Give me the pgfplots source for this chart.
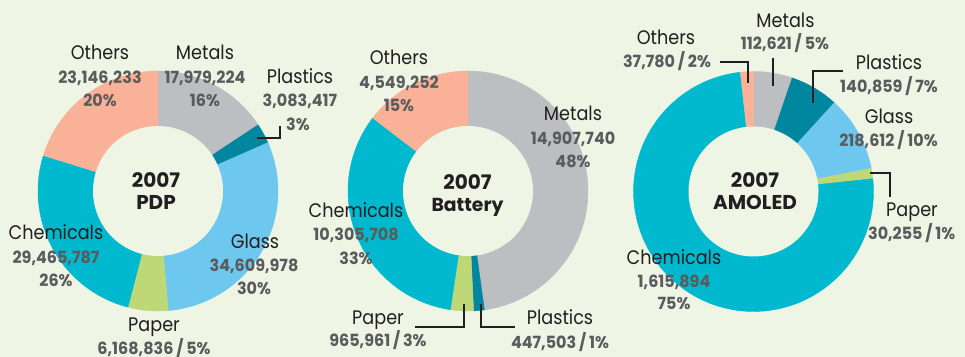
\documentclass[border=0pt]{standalone}
\usepackage{pgfplots}
\pgfplotsset{compat=1.18}
\usepackage{fontspec}
\setmainfont{Poppins}
\newfontfamily\namefont{Poppins}[FakeStretch=0.9]
\newfontfamily\numfont{Poppins}[FakeStretch=0.95]
\usepackage{xfp}
\definecolor{bg}{HTML}{EEF5E4}
\definecolor{cOthers}{HTML}{F9B298}
\definecolor{cMetals}{HTML}{BDBEC2}
\definecolor{cPlastics}{HTML}{00869E}
\definecolor{cGlass}{HTML}{6EC7EE}
\definecolor{cPaper}{HTML}{BED878}
\definecolor{cChem}{HTML}{00B9CE}
\definecolor{txt}{HTML}{231F20}
\definecolor{num}{HTML}{5A5B5D}

% cx, cy (pixels, y downwards), list of value/colour clockwise from 12 o'clock
\newcommand\donut[3]{%
  \gdef\tot{0}%
  \foreach \v/\c in {#3}{\xdef\tot{\fpeval{\tot+\v}}}%
  \gdef\cum{0}%
  \foreach \v/\c in {#3}{%
    \edef\aS{\fpeval{-90+360*\cum/\tot}}%
    \xdef\cum{\fpeval{\cum+\v}}%
    \edef\aE{\fpeval{-90+360*\cum/\tot}}%
    \edef\tmp{\noexpand\addplot[fill=\c, draw=\c, line width=0.2pt, domain=\aS:\aE, samples=90, variable=\noexpand\t] ({#1+120*cos(\noexpand\t)},{#2+120*sin(\noexpand\t)}) -- (axis cs:#1,#2) -- cycle;}%
    \tmp
  }%
  \addplot[fill=bg, draw=none, domain=0:360, samples=120, variable=\t] ({#1+65*cos(\t)},{#2+65*sin(\t)}) -- cycle;
}

\begin{document}
\begin{tikzpicture}[
  nm/.style={font=\namefont\fontsize{9.8}{11}\selectfont, text=txt, inner sep=0pt, text height=6.9pt, text depth=0pt, anchor=center},
  nb/.style={font=\numfont\fontsize{8.4}{10}\selectfont\bfseries, text=num, inner sep=0pt, text height=6.1pt, text depth=0pt, anchor=center},
  ct/.style={font=\fontsize{10}{12}\selectfont\bfseries, text=txt, inner sep=0pt, text height=7.2pt, text depth=0pt, anchor=center},
  ld/.style={txt, line width=0.55pt, mark=none}
]
\fill[bg] (0,0) rectangle (482.5pt,178.5pt);
\begin{axis}[at={(0,0)}, anchor=south west, scale only axis, width=482.5pt, height=178.5pt,
  xmin=0, xmax=965, ymin=0, ymax=357, y dir=reverse, hide axis, clip=false]

% ---- 2007 PDP ----
\donut{158}{191}{17979224/cMetals, 3083417/cPlastics, 34609978/cGlass, 6168836/cPaper, 29465787/cChem, 23146233/cOthers}
% ---- 2007 Battery ----
\donut{468}{191}{14907740/cMetals, 447503/cPlastics, 965961/cPaper, 10305708/cChem, 4549252/cOthers}
% ---- 2007 AMOLED ----
\donut{753.5}{191.5}{112621/cMetals, 140859/cPlastics, 218612/cGlass, 30255/cPaper, 1615894/cChem, 37780/cOthers}

% leader lines
\addplot[ld] coordinates {(257,138) (280,138) (280,126)};
\addplot[ld] coordinates {(464,304) (464,327) (415,327)};
\addplot[ld] coordinates {(481,304) (481,327) (515,327)};
\addplot[ld] coordinates {(720,62) (748,62) (748,83)};
\addplot[ld] coordinates {(773,58) (773,86)};
\addplot[ld] coordinates {(843,71) (813,71) (813,103)};
\addplot[ld] coordinates {(870,173) (890,173) (890,197)};

% labels PDP
\node[nm] at (axis cs:100,53) {Others};
\node[nb] at (axis cs:100,77) {23,146,233};
\node[nb] at (axis cs:100,100) {20\%};
\node[nm] at (axis cs:205,53) {Metals};
\node[nb] at (axis cs:205,77) {17,979,224};
\node[nb] at (axis cs:205,100) {16\%};
\node[nm] at (axis cs:300,77) {Plastics};
\node[nb] at (axis cs:300,100) {3,083,417};
\node[nb] at (axis cs:298,124) {3\%};
\node[nm] at (axis cs:255,242) {Glass};
\node[nb] at (axis cs:254,265) {34,609,978};
\node[nb] at (axis cs:254,288) {30\%};
\node[nm] at (axis cs:56,233) {Chemicals};
\node[nb] at (axis cs:56,257) {29,465,787};
\node[nb] at (axis cs:56,280) {26\%};
\node[nm] at (axis cs:154,325) {Paper};
\node[nb] at (axis cs:154,348) {6,168,836\,/\,5\%};
\node[ct] at (axis cs:156,180) {2007};
\node[ct] at (axis cs:156,202) {PDP};

% labels Battery
\node[nm] at (axis cs:399,58) {Others};
\node[nb] at (axis cs:399,82) {4,549,252};
\node[nb] at (axis cs:399,105) {15\%};
\node[nm] at (axis cs:573,114) {Metals};
\node[nb] at (axis cs:573,138) {14,907,740};
\node[nb] at (axis cs:573,161) {48\%};
\node[nm] at (axis cs:356,211) {Chemicals};
\node[nb] at (axis cs:356,234) {10,305,708};
\node[nb] at (axis cs:356,258) {33\%};
\node[nm] at (axis cs:378,318) {Paper};
\node[nb] at (axis cs:378,340) {965,961\,/\,3\%};
\node[nm] at (axis cs:560,318) {Plastics};
\node[nb] at (axis cs:560,342) {447,503\,/\,1\%};
\node[ct] at (axis cs:467.5,182) {2007};
\node[ct, font=\fontsize{9.4}{12}\selectfont\bfseries] at (axis cs:467.5,204) {Battery};

% labels AMOLED
\node[nm] at (axis cs:666,38) {Others};
\node[nb] at (axis cs:667,61) {37,780\,/\,2\%};
\node[nm] at (axis cs:785.5,21) {Metals};
\node[nb] at (axis cs:785,43) {112,621\,/\,5\%};
\node[nm] at (axis cs:889,63) {Plastics};
\node[nb] at (axis cs:889,86) {140,859\,/\,7\%};
\node[nm] at (axis cs:889,117) {Glass};
\node[nb] at (axis cs:888.5,140) {218,612\,/\,10\%};
\node[nm] at (axis cs:912,210) {Paper};
\node[nb] at (axis cs:911.7,233) {30,255\,/\,1\%};
\node[nm] at (axis cs:674,258) {Chemicals};
\node[nb] at (axis cs:674,281) {1,615,894};
\node[nb] at (axis cs:674,303) {75\%};
\node[ct] at (axis cs:755,180) {2007};
\node[ct] at (axis cs:755,202) {AMOLED};
\end{axis}
\end{tikzpicture}
\end{document}
